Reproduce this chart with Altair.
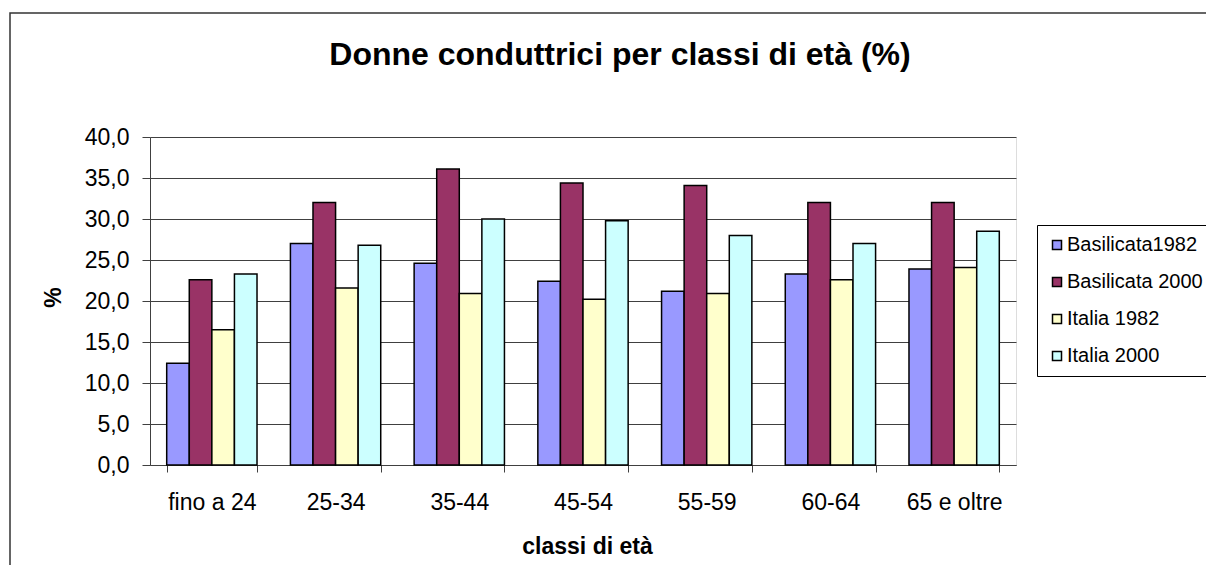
import altair as alt
import pandas as pd

categories = ["fino a 24", "25-34", "35-44", "45-54", "55-59", "60-64", "65 e oltre"]
series_names = ["Basilicata1982", "Basilicata 2000", "Italia 1982", "Italia 2000"]
basilicata_1982 = [12.4, 27.0, 24.6, 22.4, 21.2, 23.3, 23.9]
basilicata_2000 = [22.6, 32.0, 36.1, 34.4, 34.1, 32.0, 32.0]
italia_1982 = [16.5, 21.6, 20.9, 20.2, 20.9, 22.6, 24.1]
italia_2000 = [23.3, 26.8, 30.0, 29.8, 28.0, 27.0, 28.5]
colors = ["#9999FF", "#993366", "#FFFFCC", "#CCFFFF"]
y_ticks = [0, 5, 10, 15, 20, 25, 30, 35, 40]
title_text = ["Donne conduttrici per classi di età (%)"]

rows = []
for name, vals in zip(series_names, [basilicata_1982, basilicata_2000, italia_1982, italia_2000]):
    for c, v in zip(categories, vals):
        rows.append({"classe": c, "serie": name, "valore": v})
df = pd.DataFrame(rows)

FONT = "Liberation Sans"

frame = alt.Chart(pd.DataFrame({"k": [0]})).mark_rect(
    fill=None, stroke="#333333", strokeWidth=1.5
).encode(
    x=alt.value(-140), y=alt.value(-124), x2=alt.value(1200), y2=alt.value(700)
)

title = alt.Chart(pd.DataFrame({"t": title_text})).mark_text(
    font=FONT, fontSize=32, fontWeight="bold", color="black",
    align="center", baseline="alphabetic"
).encode(
    text="t:N", x=alt.value(470), y=alt.value(-72)
)

bars = alt.Chart(df).mark_bar(stroke="black", strokeWidth=1.5).encode(
    x=alt.X("classe:N", sort=categories,
            scale=alt.Scale(paddingInner=0.27, paddingOuter=0.135),
            axis=alt.Axis(title="classi di età", labelAngle=0, tickBand="extent",
                          labelFontSize=23, labelFont=FONT, labelColor="black",
                          labelPadding=19, labelBaseline="top", tickSize=7,
                          domainColor="#404040", tickColor="#404040",
                          titleFont=FONT, titleFontSize=23, titleFontWeight="bold",
                          titleColor="black", titleX=437, titleY=88,
                          titleAlign="center", titleBaseline="alphabetic")),
    xOffset=alt.XOffset("serie:N", sort=series_names,
                        scale=alt.Scale(paddingInner=0, paddingOuter=0)),
    y=alt.Y("valore:Q", scale=alt.Scale(domain=[0, 40], nice=False),
            axis=alt.Axis(title="%", values=y_ticks,
                          labelExpr="replace(format(datum.value, '.1f'), '.', ',')",
                          labelFontSize=23, labelFont=FONT, labelColor="black",
                          labelPadding=13, tickSize=8,
                          domainColor="#404040", tickColor="#404040",
                          grid=True, gridColor="#404040", gridWidth=1,
                          titleFont=FONT, titleFontSize=23, titleFontWeight="bold",
                          titleColor="black", titleX=-97, titleY=160,
                          titleAlign="center", titleBaseline="middle", titleAngle=-90)),
    color=alt.Color("serie:N", sort=series_names,
                    scale=alt.Scale(domain=series_names, range=colors),
                    legend=alt.Legend(title=None, orient="none", legendX=887, legendY=88,
                                      symbolType="square", symbolSize=81,
                                      symbolStrokeColor="black", symbolStrokeWidth=1.5,
                                      labelFontSize=20, labelFont=FONT, labelColor="black",
                                      labelOffset=0, rowPadding=17, padding=10,
                                      strokeColor="black", fillColor="white")),
)

chart = alt.layer(frame, title, bars).properties(
    width=866,
    height=328,
    autosize=alt.AutoSizeParams(type="none"),
    padding={"left": 142, "top": 129, "right": 190, "bottom": 100},
).configure_view(
    fill="#C0C0C0", stroke="#808080", strokeWidth=2
).configure(background="white")

chart.save("out.html", embed_options={"renderer": "svg", "actions": False})
